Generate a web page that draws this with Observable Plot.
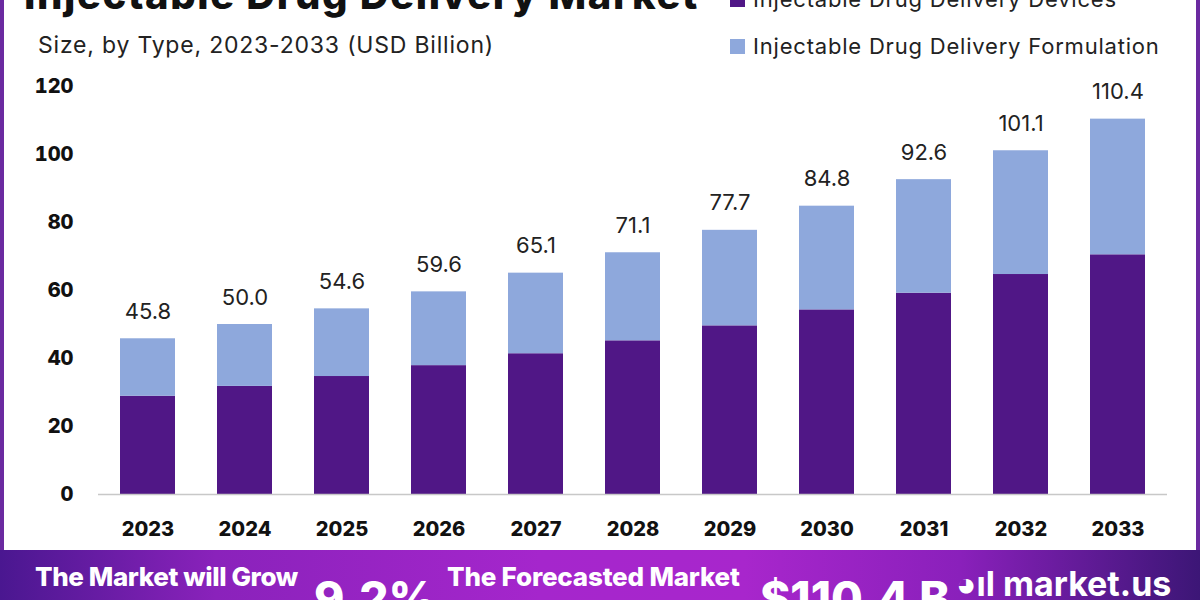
<!DOCTYPE html>
<html>
<head>
<meta charset="utf-8">
<script src="https://cdn.jsdelivr.net/npm/d3@7"></script>
<script src="https://cdn.jsdelivr.net/npm/@observablehq/plot@0.6"></script>
<style>
  html, body { margin: 0; padding: 0; background: #fff; }
  #root { position: relative; width: 1200px; height: 600px; overflow: hidden; background: #fff; font-family: Inter, "Noto Sans", sans-serif; }
  .abs { position: absolute; white-space: nowrap; }
  #title { left: 24px; top: -30px; font-size: 40px; font-weight: 800; color: #111; letter-spacing: 1.6px; }
  #subtitle { left: 38px; top: 31px; font-size: 23px; color: #222; letter-spacing: 0.8px; }
  .leg { left: 730px; font-size: 22px; color: #222; display: flex; align-items: center; letter-spacing: 0.8px; }
  .sw { width: 15px; height: 15px; margin-right: 8px; display: inline-block; }
  #chart { position: absolute; left: 0; top: 0; }
  #bl { left: 0; top: 0; width: 4px; height: 550px; background: #6b2aa0; }
  #br { left: 1196px; top: 0; width: 4px; height: 550px; background: #6b2aa0; }
  #banner { left: 0; top: 550px; width: 1200px; height: 50px;
    background: linear-gradient(90deg, #4a1790 0%, #8a22bb 18%, #a526cc 45%, #a826cc 62%, #8a20bb 80%, #3c1676 100%); }
  .bt { color: #fff; font-weight: 800; }
</style>
</head>
<body>
<div id="root">
  <div id="chart"></div>
  <div class="abs" id="bl"></div>
  <div class="abs" id="br"></div>
  <div class="abs" id="title">Injectable Drug Delivery Market</div>
  <div class="abs" id="subtitle">Size, by Type, 2023-2033 (USD Billion)</div>
  <div class="abs leg" id="leg1" style="top:-14px"></div>
  <div class="abs leg" id="leg2" style="top:33px"></div>
  <div class="abs" id="banner">
    <div class="abs bt" style="left:35px;top:11px;font-size:26px;letter-spacing:-0.4px">The Market will Grow</div>
    <div class="abs bt" style="left:314px;top:20px;font-size:46px">9.2%</div>
    <div class="abs bt" style="left:447px;top:11px;font-size:26px;letter-spacing:-0.2px">The Forecasted Market</div>
    <div class="abs bt" style="left:760px;top:20px;font-size:46px">$110.4 B</div>
    <div class="abs bt" style="left:956px;top:13px;font-size:34px;font-weight:700">&#9685;ıl market.us</div>
  </div>
</div>
<script>
const years = ["2023","2024","2025","2026","2027","2028","2029","2030","2031","2032","2033"];
const totals = [45.8, 50.0, 54.6, 59.6, 65.1, 71.1, 77.7, 84.8, 92.6, 101.1, 110.4];
const devices = [28.9, 31.8, 34.7, 37.9, 41.4, 45.2, 49.6, 54.3, 59.2, 64.7, 70.5];
const formulation = [16.9, 18.2, 19.9, 21.7, 23.7, 25.9, 28.1, 30.5, 33.4, 36.4, 39.9];
const seriesNames = ["Injectable Drug Delivery Devices", "Injectable Drug Delivery Formulation"];
const colors = ["#501786", "#8ea8dc"];
const yTicks = [0, 20, 40, 60, 80, 100, 120];

const rows = [];
years.forEach((y, i) => {
  rows.push({year: y, series: seriesNames[0], value: devices[i]});
  rows.push({year: y, series: seriesNames[1], value: formulation[i]});
});
const totalRows = years.map((y, i) => ({year: y, total: totals[i]}));

const chart = Plot.plot({
  width: 1200,
  height: 550,
  marginTop: 86,
  marginBottom: 56,
  marginLeft: 98,
  marginRight: 33,
  style: {fontFamily: "Inter, 'Noto Sans', sans-serif", background: "transparent"},
  x: {domain: years, paddingInner: 0.43, paddingOuter: 0.22, label: null},
  y: {domain: [0, 120], label: null},
  color: {domain: seriesNames, range: colors},
  marks: [
    Plot.barY(rows, {x: "year", y: "value", fill: "series", order: seriesNames}),
    Plot.ruleY([0], {stroke: "#c8c8c8", strokeWidth: 1.5}),
    Plot.text(totalRows, {x: "year", y: "total", text: d => d.total.toFixed(1), lineAnchor: "bottom", dy: -20, fontSize: 22, fill: "#222"}),
    Plot.axisY({ticks: yTicks, tickSize: 0, tickPadding: 25, fontSize: 20, fontWeight: 800, fill: "#111", label: null}),
    Plot.axisX({tickSize: 0, tickPadding: 27, fontSize: 20, fontWeight: 800, fill: "#111", label: null})
  ]
});
document.getElementById("chart").appendChild(chart);

function legendItem(el, name, color) {
  el.innerHTML = `<span class="sw" style="background:${color}"></span><span>${name}</span>`;
}
legendItem(document.getElementById("leg1"), seriesNames[0], colors[0]);
legendItem(document.getElementById("leg2"), seriesNames[1], colors[1]);
</script>
</body>
</html>
